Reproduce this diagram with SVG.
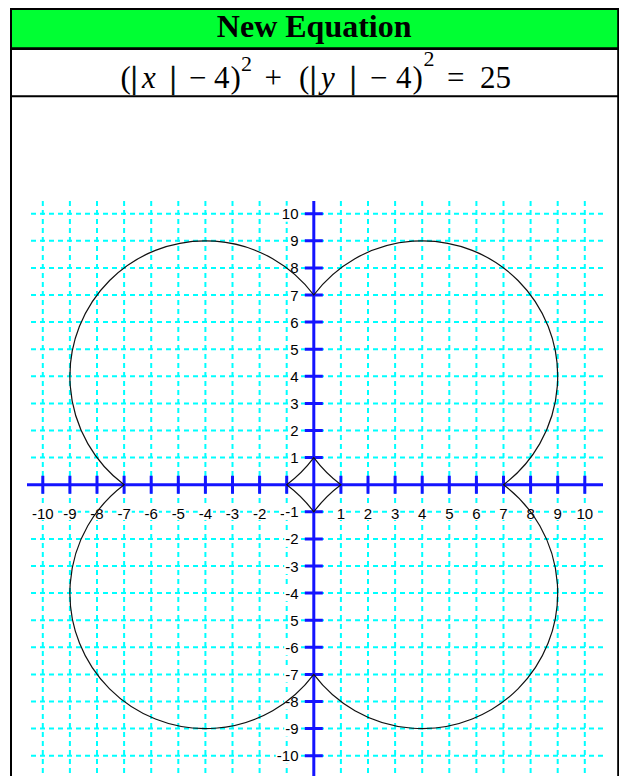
<svg xmlns="http://www.w3.org/2000/svg" width="619" height="776" viewBox="0 0 619 776">
<style>
.grid{fill:none;stroke:#00ffff;stroke-width:2;stroke-dasharray:5 4}
.axis{fill:none;stroke:#1414ff;stroke-width:3}
.curve{fill:none;stroke:#111;stroke-width:1.2}
.bg{fill:#fff}
.lbl{font-family:"Liberation Sans",Arial,sans-serif;font-size:15px;fill:#000}
.xl{text-anchor:middle}
.yl{text-anchor:end}
.eq{font-family:"Liberation Serif","Times New Roman",serif;font-size:31px;fill:#000}
.it{font-style:italic}
.sup{font-size:22px}
.bar{fill:#000;stroke:#000;stroke-width:0.7}
.tb{fill:none;stroke:#000}
</style>
<g id="table">
<rect x="11" y="9" width="607" height="39" fill="#00ff33"/>
<rect x="11" y="49" width="607" height="47" fill="#fff"/>
<rect x="11" y="97" width="607" height="679" fill="#fff"/>
<path class="tb" stroke-width="2" d="M10 9H619M11 8V776M618.2 8V776M10 96.2H619"/>
<path class="tb" stroke-width="2.6" d="M10 48.6H619"/>
</g>
<g id="header">
<text x="314.2" y="36.5" text-anchor="middle" font-family="'Liberation Serif','Times New Roman',serif" font-weight="bold" font-size="32">New Equation</text>
</g>
<g id="equation">
<text class="eq" y="88"><tspan x="120.5">(</tspan><tspan x="131" class="bar">|</tspan><tspan x="142" class="it">x</tspan><tspan x="170" class="bar">|</tspan><tspan x="189">−</tspan><tspan x="214">4</tspan><tspan x="230.5">)</tspan><tspan x="241" y="71" class="sup">2</tspan><tspan x="264.5" y="88">+</tspan><tspan x="299">(</tspan><tspan x="310" class="bar">|</tspan><tspan x="321" class="it">y</tspan><tspan x="350" class="bar">|</tspan><tspan x="370">−</tspan><tspan x="396">4</tspan><tspan x="412.5">)</tspan><tspan x="423.5" y="66" class="sup">2</tspan><tspan x="447" y="88">=</tspan><tspan x="480">25</tspan></text>
</g>
<g id="grid">
<path class="grid" d="M42.8 201V776M69.9 201V776M97 201V776M124.1 201V776M151.2 201V776M178.3 201V776M205.4 201V776M232.5 201V776M259.6 201V776M286.7 201V776M340.9 201V776M368 201V776M395.1 201V776M422.2 201V776M449.3 201V776M476.4 201V776M503.5 201V776M530.6 201V776M557.7 201V776M584.8 201V776"/>
<path class="grid" d="M31 213.7H603M31 240.8H603M31 267.9H603M31 295H603M31 322.1H603M31 349.2H603M31 376.3H603M31 403.4H603M31 430.5H603M31 457.6H603M31 511.8H603M31 538.9H603M31 566H603M31 593.1H603M31 620.2H603M31 647.3H603M31 674.4H603M31 701.5H603M31 728.6H603M31 755.7H603"/>
</g>
<g id="x-labels">
<rect class="bg" x="31" y="505" width="23.7" height="15"/>
<rect class="bg" x="62.25" y="505" width="15.3" height="15"/>
<rect class="bg" x="89.35" y="505" width="15.3" height="15"/>
<rect class="bg" x="116.45" y="505" width="15.3" height="15"/>
<rect class="bg" x="143.55" y="505" width="15.3" height="15"/>
<rect class="bg" x="170.65" y="505" width="15.3" height="15"/>
<rect class="bg" x="197.75" y="505" width="15.3" height="15"/>
<rect class="bg" x="224.85" y="505" width="15.3" height="15"/>
<rect class="bg" x="251.95" y="505" width="15.3" height="15"/>
<rect class="bg" x="279.05" y="505" width="15.3" height="15"/>
<rect class="bg" x="335.75" y="505" width="10.3" height="15"/>
<rect class="bg" x="362.85" y="505" width="10.3" height="15"/>
<rect class="bg" x="389.95" y="505" width="10.3" height="15"/>
<rect class="bg" x="417.05" y="505" width="10.3" height="15"/>
<rect class="bg" x="444.15" y="505" width="10.3" height="15"/>
<rect class="bg" x="471.25" y="505" width="10.3" height="15"/>
<rect class="bg" x="498.35" y="505" width="10.3" height="15"/>
<rect class="bg" x="525.45" y="505" width="10.3" height="15"/>
<rect class="bg" x="552.55" y="505" width="10.3" height="15"/>
<rect class="bg" x="575.45" y="505" width="18.7" height="15"/>
<text class="lbl xl" y="518.5"><tspan x="42.8">-10</tspan><tspan x="69.9">-9</tspan><tspan x="97">-8</tspan><tspan x="124.1">-7</tspan><tspan x="151.2">-6</tspan><tspan x="178.3">-5</tspan><tspan x="205.4">-4</tspan><tspan x="232.5">-3</tspan><tspan x="259.6">-2</tspan><tspan x="286.7">-1</tspan><tspan x="340.9">1</tspan><tspan x="368">2</tspan><tspan x="395.1">3</tspan><tspan x="422.2">4</tspan><tspan x="449.3">5</tspan><tspan x="476.4">6</tspan><tspan x="503.5">7</tspan><tspan x="530.6">8</tspan><tspan x="557.7">9</tspan><tspan x="584.8">10</tspan></text>
</g>
<g id="y-labels">
<rect class="bg" x="280.8" y="205.7" width="18.7" height="16"/>
<rect class="bg" x="289.2" y="232.8" width="10.3" height="16"/>
<rect class="bg" x="289.2" y="259.9" width="10.3" height="16"/>
<rect class="bg" x="289.2" y="287" width="10.3" height="16"/>
<rect class="bg" x="289.2" y="314.1" width="10.3" height="16"/>
<rect class="bg" x="289.2" y="341.2" width="10.3" height="16"/>
<rect class="bg" x="289.2" y="368.3" width="10.3" height="16"/>
<rect class="bg" x="289.2" y="395.4" width="10.3" height="16"/>
<rect class="bg" x="289.2" y="422.5" width="10.3" height="16"/>
<rect class="bg" x="289.2" y="449.6" width="10.3" height="16"/>
<rect class="bg" x="284.2" y="503.8" width="15.3" height="16"/>
<rect class="bg" x="284.2" y="530.9" width="15.3" height="16"/>
<rect class="bg" x="284.2" y="558" width="15.3" height="16"/>
<rect class="bg" x="284.2" y="585.1" width="15.3" height="16"/>
<rect class="bg" x="289.2" y="612.2" width="10.3" height="16"/>
<rect class="bg" x="284.2" y="639.3" width="15.3" height="16"/>
<rect class="bg" x="284.2" y="666.4" width="15.3" height="16"/>
<rect class="bg" x="284.2" y="693.5" width="15.3" height="16"/>
<rect class="bg" x="284.2" y="720.6" width="15.3" height="16"/>
<rect class="bg" x="275.8" y="747.7" width="23.7" height="16"/>
<text class="lbl yl" x="298.5"><tspan x="298.5" y="219.2">10</tspan><tspan x="298.5" y="246.3">9</tspan><tspan x="298.5" y="273.4">8</tspan><tspan x="298.5" y="300.5">7</tspan><tspan x="298.5" y="327.6">6</tspan><tspan x="298.5" y="354.7">5</tspan><tspan x="298.5" y="381.8">4</tspan><tspan x="298.5" y="408.9">3</tspan><tspan x="298.5" y="436">2</tspan><tspan x="298.5" y="463.1">1</tspan><tspan x="298.5" y="517.3">-1</tspan><tspan x="298.5" y="544.4">-2</tspan><tspan x="298.5" y="571.5">-3</tspan><tspan x="298.5" y="598.6">-4</tspan><tspan x="298.5" y="625.7">5</tspan><tspan x="298.5" y="652.8">-6</tspan><tspan x="298.5" y="679.9">-7</tspan><tspan x="298.5" y="707">-8</tspan><tspan x="298.5" y="734.1">-9</tspan><tspan x="298.5" y="761.2">-10</tspan></text>
</g>
<g id="axes">
<path class="axis" d="M27 484.7H603M313.8 201V776"/>
<path class="axis" d="M42.8 475.7V493.7M69.9 475.7V493.7M97 475.7V493.7M124.1 475.7V493.7M151.2 475.7V493.7M178.3 475.7V493.7M205.4 475.7V493.7M232.5 475.7V493.7M259.6 475.7V493.7M286.7 475.7V493.7M340.9 475.7V493.7M368 475.7V493.7M395.1 475.7V493.7M422.2 475.7V493.7M449.3 475.7V493.7M476.4 475.7V493.7M503.5 475.7V493.7M530.6 475.7V493.7M557.7 475.7V493.7M584.8 475.7V493.7"/>
<path class="axis" d="M304.8 213.7H322.8M304.8 240.8H322.8M304.8 267.9H322.8M304.8 295H322.8M304.8 322.1H322.8M304.8 349.2H322.8M304.8 376.3H322.8M304.8 403.4H322.8M304.8 430.5H322.8M304.8 457.6H322.8M304.8 511.8H322.8M304.8 538.9H322.8M304.8 566H322.8M304.8 593.1H322.8M304.8 620.2H322.8M304.8 647.3H322.8M304.8 674.4H322.8M304.8 701.5H322.8M304.8 728.6H322.8M304.8 755.7H322.8"/>
</g>
<g id="curve">
<path class="curve" d="M313.8 295A135.5 135.5 0 1 1 503.5 484.7A135.5 135.5 0 1 1 313.8 674.4A135.5 135.5 0 1 1 124.1 484.7A135.5 135.5 0 1 1 313.8 295Z"/>
<path class="curve" d="M313.8 457.6A135.5 135.5 0 0 0 340.9 484.7A135.5 135.5 0 0 0 313.8 511.8A135.5 135.5 0 0 0 286.7 484.7A135.5 135.5 0 0 0 313.8 457.6Z"/>
</g>
</svg>
